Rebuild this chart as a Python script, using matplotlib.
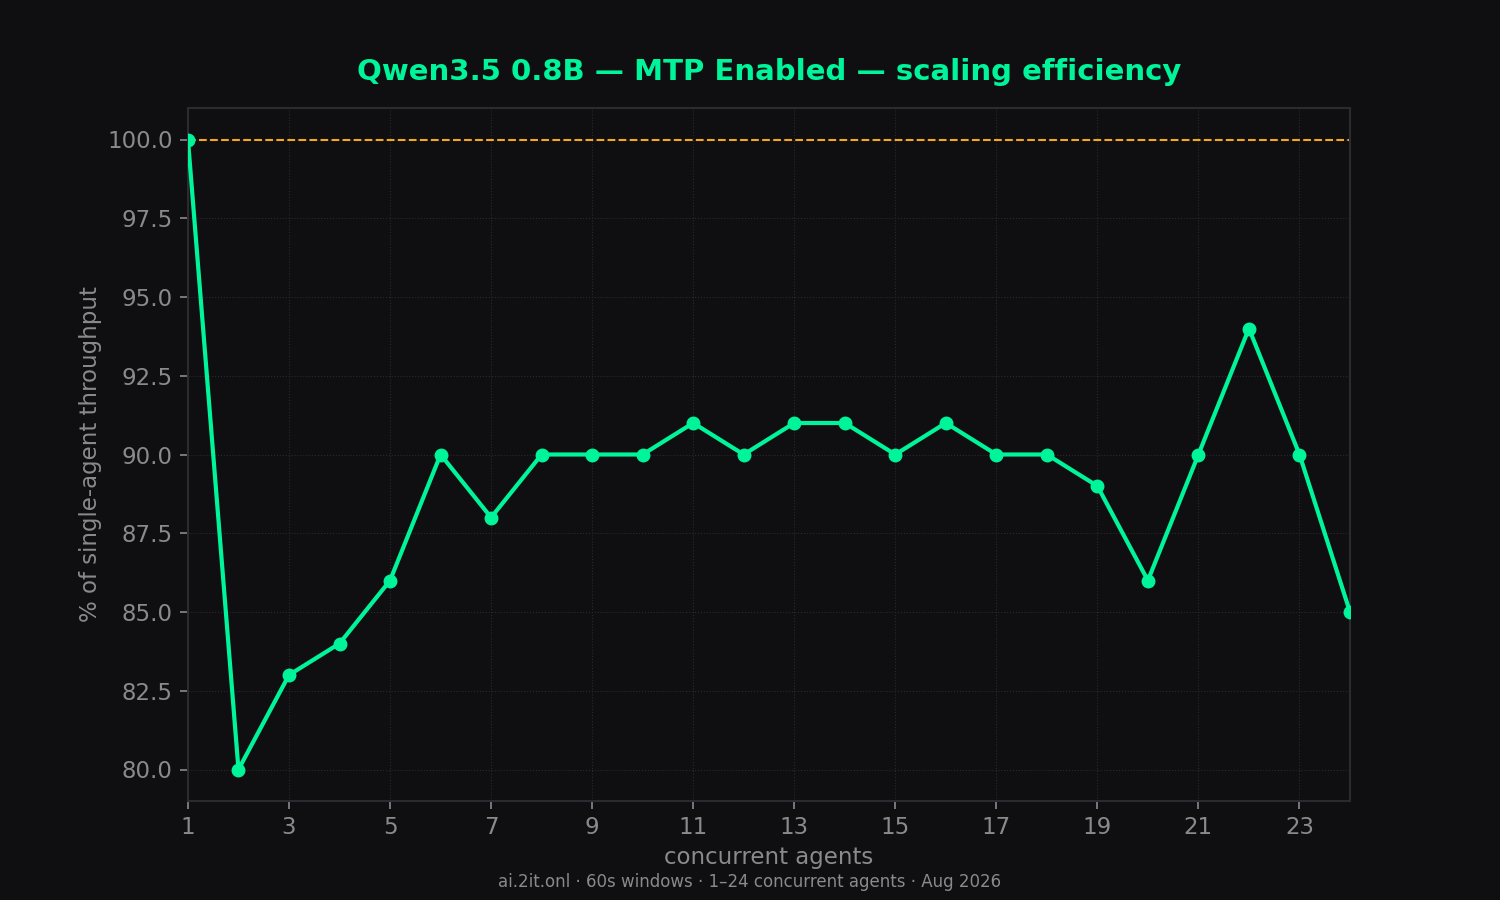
import matplotlib
matplotlib.use("Agg")
import matplotlib.pyplot as plt

# Datos
agents = list(range(1, 25))
efficiency = [100, 80, 83, 84, 86, 90, 88, 90, 90, 90, 91, 90,
              91, 91, 90, 91, 90, 90, 89, 86, 90, 94, 90, 85]
xticks = list(range(1, 25, 2))

bg = '#0f0f11'
green = '#00f59b'
muted = '#8a8a8e'

fig, ax = plt.subplots(figsize=(15, 9), dpi=100)
fig.patch.set_facecolor(bg)
ax.set_facecolor(bg)
fig.subplots_adjust(left=0.1253, right=0.9, top=0.88, bottom=0.11)

ax.axhline(100, color='#f5a623', linestyle='--', linewidth=1.5, zorder=2)
ax.plot(agents, efficiency, color=green, linewidth=3, marker='o',
        markersize=9, zorder=3, clip_on=True)

ax.set_xlim(1, 24)
ax.set_ylim(min(efficiency) - 1, max(efficiency) + 1)
ax.set_xticks(xticks)
ax.set_yticks([80, 82.5, 85, 87.5, 90, 92.5, 95, 97.5, 100])
ax.yaxis.set_major_formatter(matplotlib.ticker.FormatStrFormatter('%.1f'))

ax.grid(color='#2a2a2e', linestyle=':', linewidth=0.8)
for s in ax.spines.values():
    s.set_color('#2a2a30')
    s.set_linewidth(1.5)
ax.tick_params(colors=muted, labelsize=16.5, length=6, width=1.2, pad=5)

ax.set_xlabel('concurrent agents', color=muted, fontsize=16.5, labelpad=5)
ax.set_ylabel('% of single-agent throughput', color=muted, fontsize=16.5, labelpad=4)
ax.set_title('Qwen3.5 0.8B — MTP Enabled — scaling efficiency',
             color=green, fontsize=21, fontweight='bold', pad=20)

fig.text(0.5, 0.014, 'ai.2it.onl · 60s windows · 1–24 concurrent agents · Aug 2026',
         color=muted, fontsize=12, ha='center')

fig.savefig('out.png', facecolor=bg)
